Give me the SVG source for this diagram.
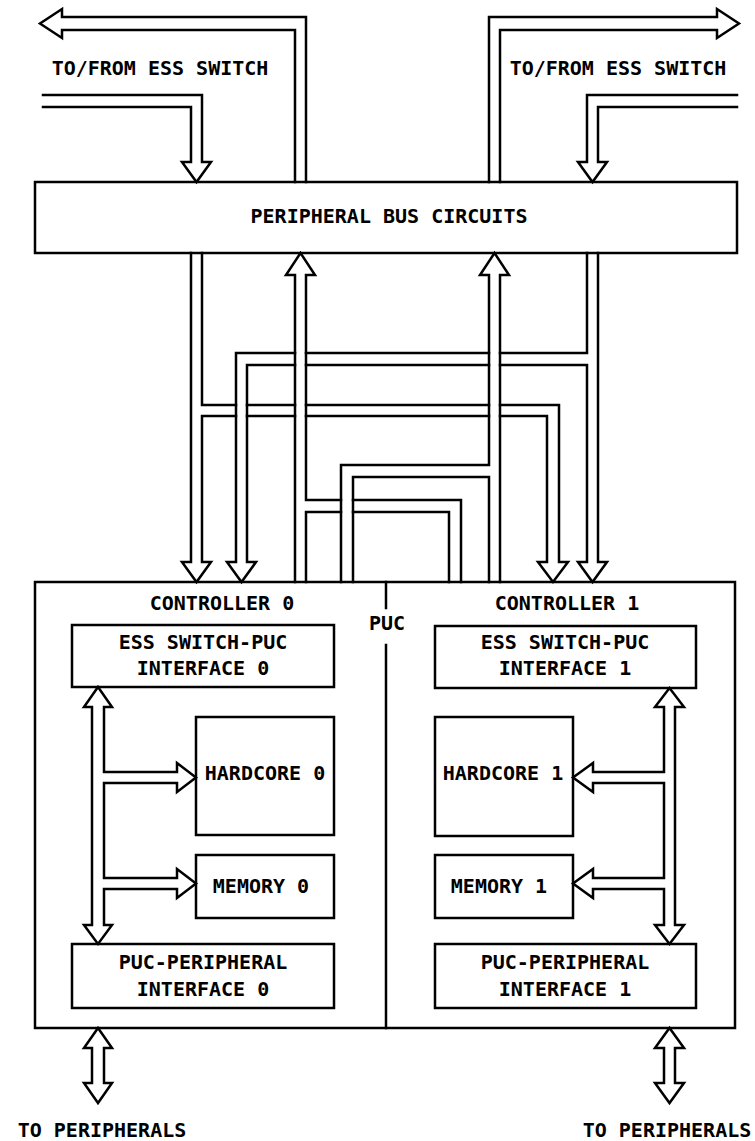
<svg xmlns="http://www.w3.org/2000/svg" width="755" height="1141" viewBox="0 0 755 1141">
<style>
.box{fill:#fff;stroke:#000;stroke-width:2.5}
.ln{fill:none;stroke:#000;stroke-width:2.5;stroke-linejoin:miter;stroke-linecap:square}
.ah{fill:#fff;stroke:#000;stroke-width:2.5;stroke-linejoin:miter}
text{font-family:"DejaVu Sans Mono","Liberation Mono",monospace;font-size:20px;font-weight:bold;fill:#000;text-anchor:middle}
</style>
<rect width="755" height="1141" fill="#fff"/>

<g id="peripheral-bus-circuits">
<rect class="box" x="35" y="182" width="702" height="71"/>
<text x="389" y="223">PERIPHERAL BUS CIRCUITS</text>
</g>

<g id="puc">
<rect class="box" x="35" y="582" width="700" height="446"/>
<path class="ln" d="M386,582V608M386,645V1028"/>
<text x="387" y="630">PUC</text>
</g>

<g id="controller-0">
<text x="222" y="610">CONTROLLER 0</text>
</g>
<g id="controller-1">
<text x="567" y="610">CONTROLLER 1</text>
</g>

<g id="ess-interface-0">
<rect class="box" x="72" y="625" width="262" height="62"/>
<text x="203" y="649">ESS SWITCH-PUC</text>
<text x="203" y="675">INTERFACE 0</text>
</g>
<g id="hardcore-0">
<rect class="box" x="196" y="717" width="138" height="118"/>
<text x="265" y="780">HARDCORE 0</text>
</g>
<g id="memory-0">
<rect class="box" x="196" y="855" width="138" height="63"/>
<text x="261" y="893">MEMORY 0</text>
</g>
<g id="peripheral-interface-0">
<rect class="box" x="72" y="944" width="262" height="64"/>
<text x="203" y="969">PUC-PERIPHERAL</text>
<text x="203" y="996">INTERFACE 0</text>
</g>

<g id="ess-interface-1">
<rect class="box" x="435" y="626" width="261" height="62"/>
<text x="565" y="649">ESS SWITCH-PUC</text>
<text x="565" y="675">INTERFACE 1</text>
</g>
<g id="hardcore-1">
<rect class="box" x="435" y="717" width="138" height="119"/>
<text x="503" y="780">HARDCORE 1</text>
</g>
<g id="memory-1">
<rect class="box" x="435" y="855" width="138" height="63"/>
<text x="499" y="893">MEMORY 1</text>
</g>
<g id="peripheral-interface-1">
<rect class="box" x="435" y="944" width="261" height="64"/>
<text x="565" y="969">PUC-PERIPHERAL</text>
<text x="565" y="996">INTERFACE 1</text>
</g>

<g id="labels">
<text x="160" y="75">TO/FROM ESS SWITCH</text>
<text x="618" y="75">TO/FROM ESS SWITCH</text>
<text x="102" y="1137">TO PERIPHERALS</text>
<text x="667" y="1137">TO PERIPHERALS</text>
</g>

<g id="connectors">
<!-- top: to/from ESS switch -->
<path class="ln" d="M306,182V17H62V9L40,23.5L62,38V30H295V182"/>
<path class="ln" d="M43,95H202V162H211L196.5,182L182,162H191V107H43"/>
<path class="ln" d="M489,182V17H717V9L739,23.5L717,38V30H500V182"/>
<path class="ln" d="M737,95H587V162H578L592.5,182L607,162H598V107H737"/>

<!-- bus L (from left side) to controller 0 and branch to controller 1 -->
<path class="ln" d="M191,253V562H182L196.5,582L211,562H202V416H236"/>
<path class="ln" d="M202,253V405H236"/>
<path class="ln" d="M247,405H295M306,405H489M500,405H559V562H568L553,582L538,562H547V416H500M489,416H306M295,416H247"/>

<!-- bus R (from right side) to controller 1 and branch to controller 0 -->
<path class="ln" d="M598,253V562H607L592.5,582L578,562H587V365H500M489,365H306M295,365H247V562H256L241.5,582L227,562H236V353H295M306,353H489M500,353H587V253"/>

<!-- up bus U1 from controller 0 (and branch from controller 1) -->
<path class="ln" d="M295,582V275H286L300.5,253L315,275H306V500H341M353,500H461V582"/>
<path class="ln" d="M306,582V512H341M353,512H449V582"/>

<!-- up bus U2 from controller 1 (and branch from controller 0) -->
<path class="ln" d="M500,582V275H509L494.5,253L480,275H489V465H341V582"/>
<path class="ln" d="M353,582V477H489V582"/>

<!-- controller 0 internal bus -->
<path class="ah" d="M92,925V707H84L98,687L112,707H104V772H177V763L196,777.5L177,792V783H104V878H177V869L196,883.5L177,898V889H104V925H112L98,944L84,925Z"/>
<!-- controller 1 internal bus -->
<path class="ah" d="M675,925V707H684L669.5,688L655,707H664V772H593V763L573,777.5L593,792V783H664V878H593V869L573,883.5L593,898V889H664V925H655L669.5,944L684,925Z"/>

<!-- to peripherals -->
<path class="ah" d="M92,1083V1048H84L98,1028L112,1048H104V1083H112L98,1103L84,1083Z"/>
<path class="ah" d="M664,1083V1048H655L669.5,1028L684,1048H675V1083H684L669.5,1103L655,1083Z"/>
</g>
</svg>
